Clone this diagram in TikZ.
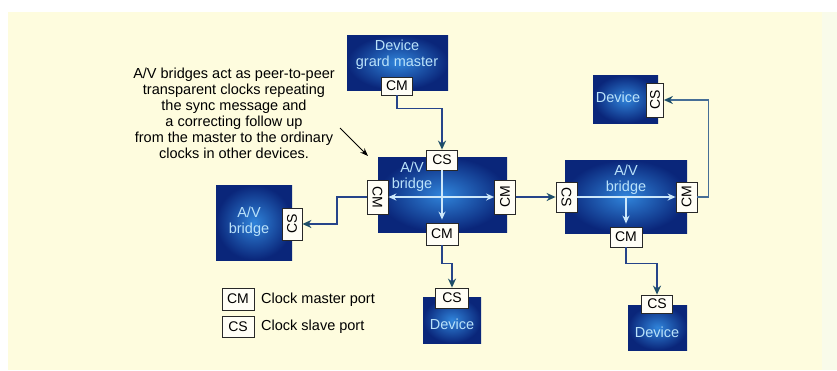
\documentclass[tikz,border=0pt]{standalone}
\usepackage{fontspec}
\setmainfont{Liberation Sans}
\usetikzlibrary{arrows.meta}
\definecolor{cream}{RGB}{254,252,222}
\definecolor{paleedge}{RGB}{249,251,234}
\definecolor{navy}{RGB}{10,38,122}
\definecolor{glow}{RGB}{48,132,218}
\definecolor{boxtext}{RGB}{186,226,250}
\definecolor{wire}{RGB}{38,68,138}
\definecolor{wiretip}{RGB}{30,78,105}
\definecolor{thinwire}{RGB}{70,110,150}
\definecolor{inner}{RGB}{205,232,250}
\definecolor{portline}{RGB}{40,40,40}
\definecolor{portfill}{RGB}{255,254,246}
\tikzset{
  devbox/.style={rectangle, draw=none, inner sep=0pt, shading=radial,
    inner color=glow, outer color=navy},
  boxlabel/.style={text=boxtext, align=center, inner sep=0pt,
    font=\fontsize{14.5}{16}\selectfont},
  port/.style={rectangle, draw=portline, fill=portfill, line width=0.8pt,
    inner sep=0pt, font=\fontsize{14}{16}\selectfont},
  conn/.style={draw=wire, line width=1.8pt,
    -{Stealth[length=9pt,width=8pt,color=wiretip,fill=wiretip]}},
  thinconn/.style={draw=thinwire, line width=1.3pt,
    -{Stealth[length=9pt,width=8pt,color=wiretip,fill=wiretip]}},
  innerarrow/.style={draw=inner, line width=1.8pt},
  txt/.style={inner sep=0pt, font=\fontsize{14.5}{16}\selectfont},
}
\begin{document}
\begin{tikzpicture}[x=1pt,y=-1pt]
\useasboundingbox (0,0) rectangle (837,370);
\fill[white] (0,0) rectangle (837,370);
\fill[paleedge] (822,12) rectangle (837,370);
\fill[cream] (8,12) rectangle (822,370);

% grand master device
\node[devbox, minimum width=101pt, minimum height=55pt] (gm) at (397.5,62.5) {};
\node[boxlabel] (gmtxt) at (397,55) {Device\\grard master};
\node[port, minimum width=31pt, minimum height=18pt] (gmcm) at (397,86) {CM};

% central bridge
\node[devbox, minimum width=129pt, minimum height=75pt] (b1) at (442.5,194.5) {};
\node[boxlabel] (b1txt) at (412,177) {A/V\\bridge};
\node[port, minimum width=31pt, minimum height=20pt] (b1cs) at (442,160) {CS};
\node[port, minimum width=21pt, minimum height=34pt] (b1cml) at (377.5,197) {\rotatebox{-90}{CM}};
\node[port, minimum width=21pt, minimum height=34pt] (b1cmr) at (505,197) {\rotatebox{90}{CM}};
\node[port, minimum width=32pt, minimum height=22pt] (b1cmb) at (442,234) {CM};
\draw[innerarrow, {Stealth[length=8pt,width=7pt]}-{Stealth[length=8pt,width=7pt]}]
  (b1cml.east) -- (b1cmr.west);
\draw[innerarrow, -{Stealth[length=8pt,width=7pt]}, shorten >=3pt]
  (b1cs.south) -- (b1cmb.north);

% small bridge on the left
\node[devbox, minimum width=76pt, minimum height=75pt] (sb) at (254,222.5) {};
\node[boxlabel] (sbtxt) at (249,222) {A/V\\bridge};
\node[port, minimum width=20pt, minimum height=32pt] (sbcs) at (292,224) {\rotatebox{90}{CS}};

% bottom device under the central bridge
\node[devbox, minimum width=58pt, minimum height=46pt] (d1) at (452,320) {};
\node[boxlabel] (d1txt) at (452,324) {Device};
\node[port, minimum width=33pt, minimum height=20pt] (d1cs) at (452,298) {CS};

% right bridge
\node[devbox, minimum width=122pt, minimum height=73pt] (b2) at (626,196.5) {};
\node[boxlabel] (b2txt) at (626,180) {A/V\\bridge};
\node[port, minimum width=21pt, minimum height=30pt] (b2cs) at (566.5,197) {\rotatebox{-90}{CS}};
\node[port, minimum width=21pt, minimum height=30pt] (b2cmr) at (686.5,197) {\rotatebox{90}{CM}};
\node[port, minimum width=32pt, minimum height=20pt] (b2cmb) at (626,237) {CM};
\draw[innerarrow, -{Stealth[length=8pt,width=7pt]}] (b2cs.east) -- (b2cmr.west);
\draw[innerarrow, -{Stealth[length=8pt,width=7pt]}, shorten >=3pt]
  (b2cmb.north |- b2cs.east) -- (b2cmb.north);

% device under the right bridge
\node[devbox, minimum width=59pt, minimum height=45pt] (d2) at (657.5,327.5) {};
\node[boxlabel] (d2txt) at (657,332) {Device};
\node[port, minimum width=31pt, minimum height=18pt] (d2cs) at (657,304) {CS};

% device at the top right
\node[devbox, minimum width=65pt, minimum height=48pt] (d3) at (625.5,99) {};
\node[boxlabel] (d3txt) at (618,97) {Device};
\node[port, minimum width=17pt, minimum height=34pt] (d3cs) at (655,100) {\rotatebox{90}{CS}};

% connectors between ports
\draw[conn] (gmcm.south) -- ++(0,13) -| (b1cs.north);
\draw[conn] (b1cml.west) -- ++(-30,0) |- (sbcs.east);
\draw[conn] (b1cmr.east) -- (b2cs.west);
\draw[conn] (b1cmb.south) -- ++(0,18) -| (d1cs.north);
\draw[conn] (b2cmb.south) -- ++(0,16) -| (d2cs.north);
\draw[thinconn] (b2cmr.east) -- ++(11,0) |- (d3cs.east);

% annotation
\node[txt, align=center] (note) at (234,113)
  {A/V bridges act as peer-to-peer\\transparent clocks repeating\\the sync message and\\a correcting follow up\\from the master to the ordinary\\clocks in other devices.};
\coordinate (notetail) at (340,128);
\coordinate (notetip) at (368,156);
\draw[line width=1pt, -{Stealth[length=8pt,width=6pt]}] (notetail) -- (notetip);

% legend
\node[port, minimum width=32pt, minimum height=22pt] (lgcm) at (238,299) {CM};
\node[port, minimum width=32pt, minimum height=21pt] (lgcs) at (238,327) {CS};
\node[txt, anchor=west] (lgcmtxt) at (261,300) {Clock master port};
\node[txt, anchor=west] (lgcstxt) at (261,327) {Clock slave port};
\end{tikzpicture}
\end{document}
